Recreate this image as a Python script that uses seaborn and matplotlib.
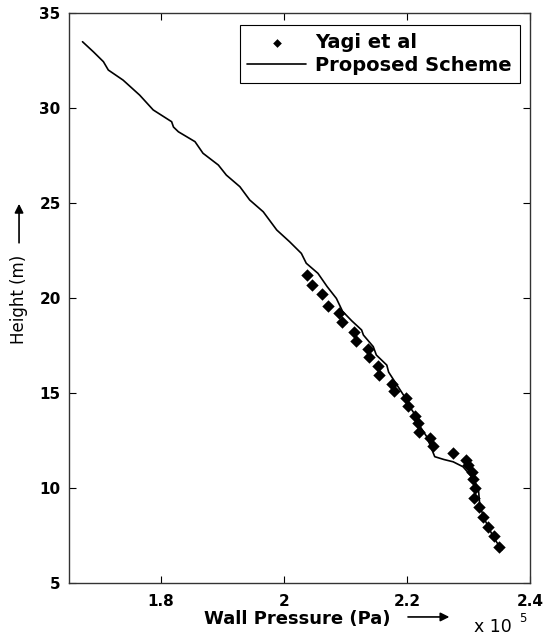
import matplotlib
matplotlib.use('agg')
import matplotlib.pyplot as plt
import seaborn as sns
import pandas as pd

# wall pressure in units of 1e5 Pa, height in m
yagi_p = [2.038, 2.046, 2.062, 2.071, 2.090, 2.094, 2.113, 2.117, 2.136, 2.138,
          2.152, 2.154, 2.176, 2.179, 2.198, 2.201, 2.213, 2.217, 2.219, 2.237,
          2.242, 2.274, 2.296, 2.299, 2.305, 2.307, 2.310, 2.309, 2.317, 2.324,
          2.332, 2.341, 2.349]
yagi_h = [21.2, 20.7, 20.2, 19.6, 19.2, 18.75, 18.2, 17.75, 17.3, 16.9,
          16.4, 15.95, 15.5, 15.1, 14.75, 14.3, 13.8, 13.4, 12.95, 12.65,
          12.2, 11.85, 11.5, 11.2, 10.85, 10.45, 10.0, 9.5, 9.0, 8.5,
          7.95, 7.45, 6.9]

scheme_p = [1.672, 1.690, 1.706, 1.714, 1.738, 1.765, 1.787, 1.817, 1.820, 1.828,
            1.855, 1.868, 1.893, 1.906, 1.928, 1.944, 1.966, 1.988, 2.009, 2.028,
            2.036, 2.055, 2.070, 2.085, 2.095, 2.110, 2.126, 2.129, 2.145, 2.150,
            2.167, 2.170, 2.180, 2.196, 2.200, 2.215, 2.222, 2.232, 2.245, 2.260,
            2.275, 2.291, 2.305, 2.316, 2.318, 2.324, 2.340, 2.354]
scheme_h = [33.49, 32.95, 32.44, 32.0, 31.47, 30.68, 29.9, 29.28, 29.0, 28.75,
            28.23, 27.62, 27.0, 26.47, 25.86, 25.16, 24.54, 23.58, 22.96, 22.35,
            21.83, 21.3, 20.6, 19.98, 19.3, 18.8, 18.32, 18.05, 17.44, 17.0,
            16.47, 16.1, 15.6, 14.8, 14.5, 13.75, 13.2, 12.7, 11.65, 11.5,
            11.38, 11.12, 10.6, 9.98, 9.19, 8.49, 7.44, 6.74]

xticks = [1.8, 2.0, 2.2, 2.4]
xtick_labels = ['1.8', '2', '2.2', '2.4']
yticks = [5, 10, 15, 20, 25, 30, 35]

sns.set_style('ticks')
plt.rcParams['font.family'] = ['DejaVu Sans']
plt.rcParams['text.color'] = 'black'
plt.rcParams['axes.labelcolor'] = 'black'

yagi = pd.DataFrame({'p': yagi_p, 'h': yagi_h})
scheme = pd.DataFrame({'p': scheme_p, 'h': scheme_h})

fig = plt.figure(figsize=(5.44, 6.39), dpi=100)
ax = fig.add_axes([0.1268, 0.0876, 0.8475, 0.892])

sns.scatterplot(data=yagi, x='p', y='h', marker='D', s=40, color='black',
                edgecolor='black', linewidth=0, ax=ax, label='Yagi et al')
sns.lineplot(data=scheme, x='p', y='h', sort=False, estimator=None,
             color='black', linewidth=1.2, ax=ax, label='Proposed Scheme')

ax.set_xlim(1.65, 2.4)
ax.set_ylim(5, 35)
ax.set_xticks(xticks)
ax.set_xticklabels(xtick_labels)
ax.set_yticks(yticks)
ax.tick_params(direction='in', top=True, right=True, length=5, width=0.8,
               labelsize=11, colors='black')
ax.tick_params(axis='x', pad=8)
ax.tick_params(axis='y', pad=6)
for lab in ax.get_xticklabels() + ax.get_yticklabels():
    lab.set_fontweight('bold')
for sp in ax.spines.values():
    sp.set_visible(True)
    sp.set_color('#333333')
    sp.set_linewidth(1.0)
ax.set_xlabel('')
ax.set_ylabel('')

# axis labels with the long arrows, placed as in the original
fig.text(0.547, 0.031, 'Wall Pressure (Pa)', ha='center', va='center',
         fontsize=13, fontweight='bold')
fig.text(0.035, 0.532, 'Height (m)', ha='center', va='center',
         fontsize=12, rotation=90)
ax.annotate('', xy=(0.826, 0.0345), xytext=(0.750, 0.0345),
            xycoords='figure fraction',
            arrowprops=dict(arrowstyle='-|>', color='black', lw=1.2,
                            mutation_scale=13, shrinkA=0, shrinkB=0))
ax.annotate('', xy=(0.035, 0.681), xytext=(0.035, 0.620),
            xycoords='figure fraction',
            arrowprops=dict(arrowstyle='-|>', color='black', lw=1.2,
                            mutation_scale=13, shrinkA=0, shrinkB=0))
fig.text(0.872, 0.011, 'x 10', ha='left', va='baseline', fontsize=12.5)
fig.text(0.954, 0.026, '5', ha='left', va='baseline', fontsize=8.5)

leg = ax.legend(loc='upper right', bbox_to_anchor=(0.978, 0.979), frameon=True,
                fancybox=False, edgecolor='black', framealpha=1,
                prop={'weight': 'bold', 'size': 14}, borderpad=0.4,
                handlelength=3.0, handletextpad=0.5, labelspacing=0.22,
                borderaxespad=0, markerscale=0.7)
leg.get_frame().set_linewidth(0.8)

fig.savefig('out.png', dpi=100)
plt.close()
